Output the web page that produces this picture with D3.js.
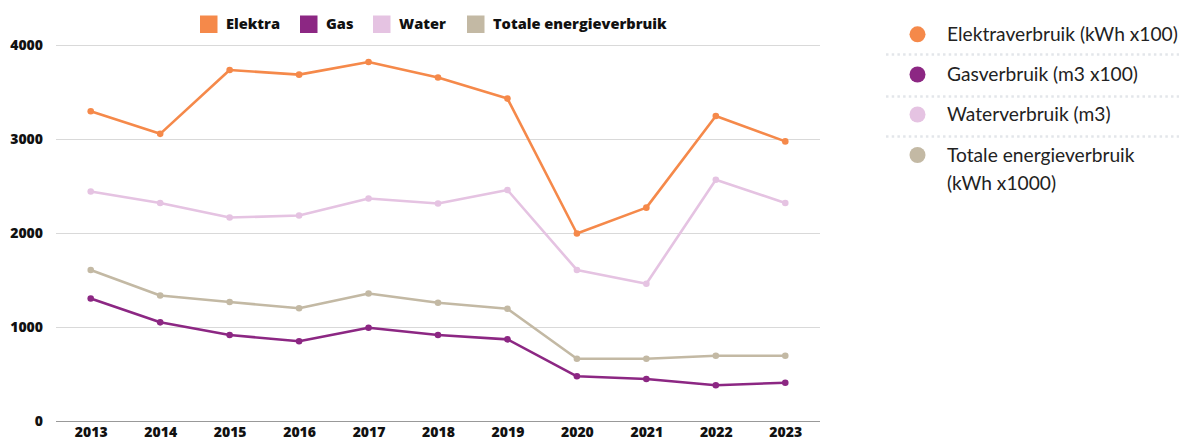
<!DOCTYPE html>
<html><head><meta charset="utf-8">
<script src="https://cdn.jsdelivr.net/npm/d3@7"></script>
<style>body{margin:0;background:#fff;} svg{display:block;}</style>
</head><body>
<svg id="chart" width="1179" height="441"></svg>
<script>
const years = ["2013","2014","2015","2016","2017","2018","2019","2020","2021","2022","2023"];
const elektra = [3300,3060,3740,3690,3825,3660,3435,2000,2275,3250,2980];
const gas = [1309,1055,920,853,998,920,874,481,452,385,413];
const water = [2447,2324,2170,2191,2372,2319,2463,1612,1466,2572,2324];
const totaal = [1612,1340,1271,1204,1362,1264,1200,668,668,700,700];
const yTicks = [0,1000,2000,3000,4000];
const seriesNames = ["Elektra","Gas","Water","Totale energieverbruik"];
const legendNames = ["Elektraverbruik (kWh x100)","Gasverbruik (m3 x100)","Waterverbruik (m3)","Totale energieverbruik (kWh x1000)"];
const colors = ["#F5894A","#8C2783","#E5C3E2","#C3B9A4"];

const series = [elektra, gas, water, totaal];
const svg = d3.select("#chart");
const mLeft = 56, mRight = 820, mTop = 45.5, mBottom = 421.5;

const x = d3.scalePoint().domain(years).range([mLeft, mRight]).padding(0.5);
const y = d3.scaleLinear().domain([0,4000]).range([mBottom, mTop]);

// gridlines
svg.append("g").selectAll("line").data(yTicks.filter(d=>d>0)).join("line")
  .attr("x1", mLeft).attr("x2", mRight)
  .attr("y1", d=>y(d)).attr("y2", d=>y(d))
  .attr("stroke", "#d9d9d9").attr("stroke-width", 1.2);

// y axis labels
const yAxis = svg.append("g").attr("transform", `translate(${mLeft-13},0)`)
  .call(d3.axisLeft(y).tickValues(yTicks).tickSize(0).tickPadding(0).tickFormat(d3.format("d")));
yAxis.select(".domain").remove();
yAxis.selectAll("text").attr("font-family","'Open Sans'").attr("font-weight",800)
  .attr("font-size",14).attr("fill","#111");

// x axis
const xAxis = svg.append("g").attr("transform", `translate(0,${mBottom})`)
  .call(d3.axisBottom(x).tickSize(0).tickPadding(6));
xAxis.select(".domain").attr("stroke","#999").attr("stroke-width",1.2).attr("d", `M${mLeft},0H${mRight}`);
xAxis.selectAll("text").attr("font-family","'Open Sans'").attr("font-weight",800)
  .attr("font-size",14).attr("fill","#111");

const line = d3.line().x((d,i)=>x(years[i])).y(d=>y(d));
const order = [3,2,1,0];
order.forEach(k=>{
  const g = svg.append("g");
  g.append("path").datum(series[k]).attr("d", line).attr("fill","none")
    .attr("stroke", colors[k]).attr("stroke-width", 2.6).attr("stroke-linejoin","round");
  g.selectAll("circle").data(series[k]).join("circle")
    .attr("cx",(d,i)=>x(years[i])).attr("cy", d=>y(d)).attr("r",3.3).attr("fill",colors[k]);
});

// top legend
const topLeg = [200,300,373,467];
seriesNames.forEach((n,i)=>{
  const g = svg.append("g").attr("transform",`translate(${topLeg[i]},15.5)`);
  g.append("rect").attr("width",17.5).attr("height",17.5).attr("fill",colors[i]);
  g.append("text").attr("x",26).attr("y",13.5).text(n)
    .attr("font-family","'Open Sans'").attr("font-weight",800).attr("font-size",14.6).attr("fill","#111");
});

// right legend
const rl = svg.append("g");
const rowY = [34.3, 74.5, 114.5, 155];
legendNames.forEach((n,i)=>{
  rl.append("circle").attr("cx",917.5).attr("cy",rowY[i]).attr("r",8).attr("fill",colors[i]);
  const t = rl.append("text").attr("x",947).attr("y",rowY[i]+6.8)
    .attr("font-family","Lato").attr("font-size",19.2).attr("fill","#222");
  if (i===3) {
    t.append("tspan").attr("x",947).text("Totale energieverbruik");
    t.append("tspan").attr("x",947).attr("dy",28).text("(kWh x1000)");
  } else t.text(n);
});
[54.5, 96.5, 136.5].forEach(yy=>{
  rl.append("line").attr("x1",886).attr("x2",1179).attr("y1",yy).attr("y2",yy)
    .attr("stroke","#e3e6ea").attr("stroke-width",2.5).attr("stroke-dasharray","2.5,3.2");
});
</script>
</body></html>
